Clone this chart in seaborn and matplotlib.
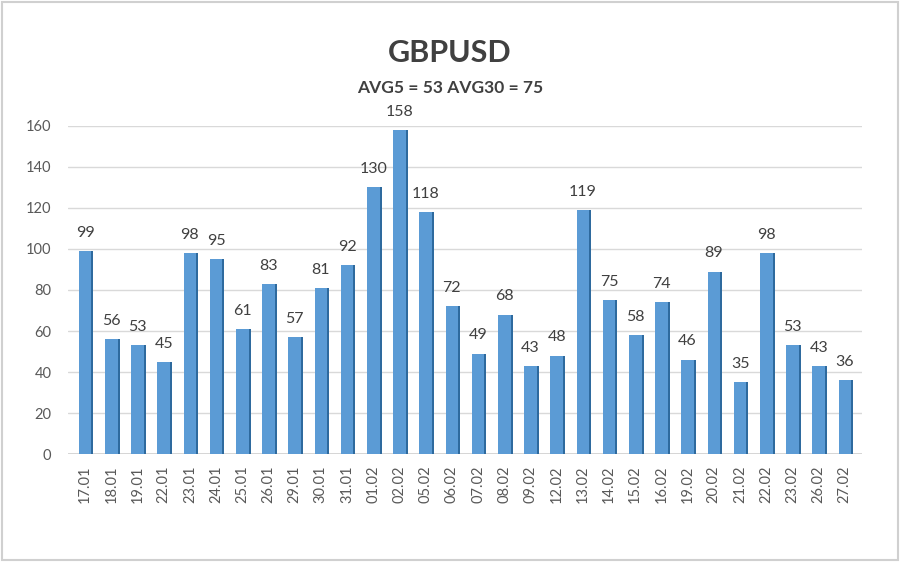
import matplotlib
matplotlib.use('Agg')

import matplotlib.pyplot as plt
import seaborn as sns
import pandas as pd

# ================= DATA =================

dates = ['17.01', '18.01', '19.01', '22.01', '23.01', '24.01', '25.01', '26.01',
         '29.01', '30.01', '31.01', '01.02', '02.02', '05.02', '06.02', '07.02',
         '08.02', '09.02', '12.02', '13.02', '14.02', '15.02', '16.02', '19.02',
         '20.02', '21.02', '22.02', '23.02', '26.02', '27.02']

values = [99, 56, 53, 45, 98, 95, 61, 83, 57, 81, 92, 130, 158, 118, 72, 49,
          68, 43, 48, 119, 75, 58, 74, 46, 89, 35, 98, 53, 43, 36]

yticks = [0, 20, 40, 60, 80, 100, 120, 140, 160]

title = 'GBPUSD'
subtitle = 'AVG5 = 53 AVG30 = 75'

df = pd.DataFrame({'date': dates, 'value': values})

# ================= STYLE =================

sns.set_theme(style='white')
plt.rcParams['font.family'] = ['Lato', 'DejaVu Sans']

TEXT = '#404040'
BAR = '#5b9bd5'
SIDE = '#2e6a9e'

fig = plt.figure(figsize=(9, 5.62), dpi=100)
ax = fig.add_axes([0.0756, 0.192, 0.882, 0.584])

# darker side face, slightly offset, for the 3D look
ax.bar([i + 0.08 for i in range(len(values))], values, width=0.48,
       color=SIDE, zorder=2, linewidth=0)

sns.barplot(data=df, x='date', y='value', color=BAR, width=0.48,
            saturation=1, ax=ax, zorder=3, linewidth=0)

for i, v in enumerate(values):
    ax.text(i, v + 5.5, str(v), ha='center', va='bottom',
            fontsize=11.5, color=TEXT, zorder=4)

ax.set_ylim(0, 160)
ax.set_xlim(-0.65, len(values) - 0.35)
ax.set_yticks(yticks)
ax.yaxis.grid(True, color='#d9d9d9', linewidth=1)
ax.set_axisbelow(True)
for s in ax.spines.values():
    s.set_visible(False)
ax.axhline(0, color='#d0d0d0', linewidth=1.2, zorder=1)

ax.set_xlabel('')
ax.set_ylabel('')
ax.tick_params(axis='x', labelrotation=90, labelsize=10.5, colors='#595959', length=0, pad=8)
ax.tick_params(axis='y', labelsize=10.5, colors='#595959', length=0, pad=12)

fig.text(0.5, 0.905, title, ha='center', va='center', fontsize=22,
         fontweight='bold', color=TEXT)
fig.text(0.5, 0.843, subtitle, ha='center', va='center', fontsize=12.5,
         fontweight='bold', color=TEXT)

# light frame around the picture
fig.patches.append(plt.Rectangle((0.002, 0.003), 0.996, 0.994, transform=fig.transFigure,
                                 fill=False, edgecolor='#d0d0d0', linewidth=1.5))

fig.savefig('out.png', dpi=100)
